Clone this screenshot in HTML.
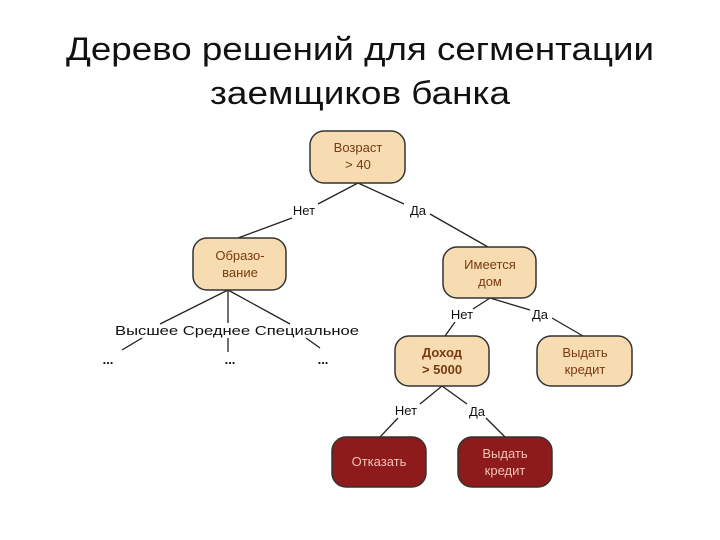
<!DOCTYPE html>
<html><head><meta charset="utf-8"><style>
html,body{margin:0;padding:0;background:#fff;}
svg{display:block;}
</style></head><body>
<svg width="720" height="540" viewBox="0 0 720 540" xmlns="http://www.w3.org/2000/svg" font-family="Liberation Sans, DejaVu Sans, sans-serif">
<text x="360" y="60" font-size="32" fill="#111" text-anchor="middle" textLength="588" lengthAdjust="spacingAndGlyphs">Дерево решений для сегментации</text>
<text x="360" y="104" font-size="32" fill="#111" text-anchor="middle" textLength="300" lengthAdjust="spacingAndGlyphs">заемщиков банка</text>
<g stroke="#222" stroke-width="1.3" fill="none">
<line x1="358" y1="183" x2="318" y2="204"/><line x1="292" y1="218" x2="238" y2="238"/>
<line x1="358" y1="183" x2="404" y2="204"/><line x1="430" y1="214" x2="488" y2="247"/>
<line x1="228" y1="290" x2="160" y2="324"/><line x1="142" y1="338" x2="122" y2="350"/>
<line x1="228" y1="290" x2="228" y2="323"/><line x1="228" y1="338" x2="228" y2="352"/>
<line x1="228" y1="290" x2="290" y2="324"/><line x1="306" y1="338" x2="320" y2="348"/>
<line x1="490" y1="298" x2="473" y2="309"/><line x1="455" y1="322" x2="445" y2="336"/>
<line x1="490" y1="298" x2="530" y2="310"/><line x1="552" y1="318" x2="583" y2="336"/>
<line x1="442" y1="386" x2="420" y2="404"/><line x1="398" y1="418" x2="380" y2="437"/>
<line x1="442" y1="386" x2="467" y2="404"/><line x1="486" y1="418" x2="505" y2="437"/>
</g>
<g stroke="#333" stroke-width="1.5" fill="#f6dcb0">
<rect x="310" y="131" width="95" height="52" rx="14"/>
<rect x="193" y="238" width="93" height="52" rx="14"/>
<rect x="443" y="247" width="93" height="51" rx="14"/>
<rect x="395" y="336" width="94" height="50" rx="14"/>
<rect x="537" y="336" width="95" height="50" rx="14"/>
</g>
<g stroke="#333" stroke-width="1.5" fill="#8e1b1b">
<rect x="332" y="437" width="94" height="50" rx="14"/>
<rect x="458" y="437" width="94" height="50" rx="14"/>
</g>
<g font-size="13" fill="#7a3a12" text-anchor="middle">
<text x="358" y="152">Возраст</text><text x="358" y="169">&gt; 40</text>
<text x="240" y="260">Образо-</text><text x="240" y="277">вание</text>
<text x="490" y="269">Имеется</text><text x="490" y="286">дом</text>
<text x="442" y="357" font-weight="bold">Доход</text><text x="442" y="374" font-weight="bold">&gt; 5000</text>
<text x="585" y="357">Выдать</text><text x="585" y="374">кредит</text>
</g>
<g font-size="13" fill="#f3c0b8" text-anchor="middle">
<text x="379" y="466">Отказать</text>
<text x="505" y="458">Выдать</text><text x="505" y="475">кредит</text>
</g>
<g font-size="13" fill="#111" text-anchor="middle">
<text x="304" y="215">Нет</text><text x="418" y="215">Да</text>
<text x="237" y="335" textLength="244" lengthAdjust="spacingAndGlyphs">Высшее Среднее Специальное</text>
<text x="462" y="319">Нет</text><text x="540" y="319">Да</text>
<text x="406" y="415">Нет</text><text x="477" y="416">Да</text>
<text x="108" y="364" font-weight="bold">...</text>
<text x="230" y="364" font-weight="bold">...</text>
<text x="323" y="364" font-weight="bold">...</text>
</g>
</svg>
</body></html>
